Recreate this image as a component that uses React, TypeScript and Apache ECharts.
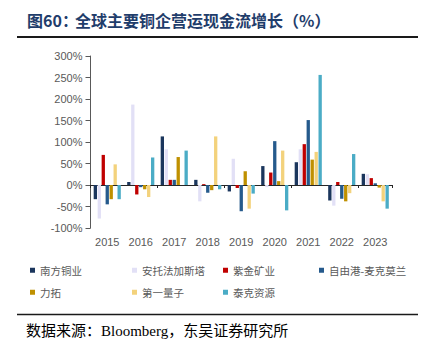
import React, { useEffect, useRef } from "react";
import * as echarts from "echarts";

const years = ["2015", "2016", "2017", "2018", "2019", "2020", "2021", "2022", "2023"];
const seriesNames = ["南方铜业", "安托法加斯塔", "紫金矿业", "自由港-麦克莫兰", "力拓", "第一量子", "泰克资源"];
const southernCopper = [-33, 7, 113, 12, -15, 44, 53, -36, 26];
const antofagasta = [-78, 187, 83, -38, 61, -5, 83, -48, 25];
const zijin = [70, -22, 12, 2, -7, 29, 95, 7, 16];
const freeport = [-45, -5, 12, -18, -61, 102, 151, -32, 4];
const rioTinto = [-33, -10, 65, -12, 32, 9, 59, -38, -6];
const firstQuantum = [48, -28, 0, 113, -55, 80, 77, -19, -38];
const teck = [-33, 64, 80, -10, -20, -59, 256, 72, -55];
const yMin = -100;
const yMax = 300;
const yStep = 50;

const seriesData = [southernCopper, antofagasta, zijin, freeport, rioTinto, firstQuantum, teck];
const colors = ["#1B365D", "#E2E0F6", "#C00000", "#255A8C", "#BF9000", "#F3D27C", "#4BACC6"];
const legendPos = [
  [30, 265], [132, 265], [223, 265], [319, 265],
  [30, 287], [132, 287], [223, 287],
];

export default function App() {
  const ref = useRef<HTMLDivElement>(null);
  useEffect(() => {
    if (!ref.current) return;
    const chart = echarts.init(ref.current, undefined, { renderer: "svg" });
    const axisFont = { fontFamily: "Liberation Sans, Arial, sans-serif", fontSize: 11, color: "#595959" };
    chart.setOption({
      animation: false,
      backgroundColor: "#ffffff",
      grid: { left: 90.5, right: 44, top: 56, bottom: 126, containLabel: false },
      xAxis: [
        {
          type: "category",
          data: years,
          position: "bottom",
          axisLine: { onZero: true, lineStyle: { color: "#262626", width: 1 } },
          axisTick: { show: true, length: 3, lineStyle: { color: "#262626" } },
          axisLabel: { show: false },
        },
        {
          type: "category",
          data: years,
          position: "bottom",
          axisLine: { show: false, onZero: false },
          axisTick: { show: false },
          axisLabel: { show: true, margin: 8, ...axisFont },
        },
      ],
      yAxis: {
        type: "value",
        min: yMin,
        max: yMax,
        interval: yStep,
        axisLine: { show: true, lineStyle: { color: "#595959" } },
        axisTick: { show: true, length: 5, lineStyle: { color: "#595959" } },
        splitLine: { show: false },
        axisLabel: { margin: 8, formatter: (v: number) => `${v}%`, ...axisFont },
      },
      legend: seriesNames.map((name, i) => ({
        data: [name],
        left: legendPos[i][0],
        top: legendPos[i][1],
        padding: 0,
        itemWidth: 5,
        itemHeight: 5,
        icon: "rect",
        selectedMode: false,
        textStyle: { fontFamily: "Noto Sans CJK SC", fontSize: 10.5, color: "#595959" },
      })),
      series: seriesNames.map((name, i) => ({
        name,
        type: "bar",
        xAxisIndex: 0,
        data: seriesData[i],
        barGap: "20%",
        barCategoryGap: "19%",
        itemStyle: { color: colors[i] },
      })),
      graphic: [
        {
          type: "text",
          left: 27,
          top: 12,
          style: {
            text: "图60：",
            font: "bold 16px 'Noto Sans CJK SC'",
            fill: "#1F3D6B",
          },
        },
        {
          type: "text",
          left: 75,
          top: 12,
          style: {
            text: "全球主要铜企营运现金流增长（%）",
            font: "bold 16px 'Noto Sans CJK SC'",
            fill: "#1F3D6B",
          },
        },
        {
          type: "line",
          shape: { x1: 17, y1: 37, x2: 418, y2: 37 },
          style: { stroke: "#1a1a1a", lineWidth: 2 },
        },
        {
          type: "line",
          shape: { x1: 17, y1: 314.5, x2: 418, y2: 314.5 },
          style: { stroke: "#1a1a1a", lineWidth: 1.5 },
        },
        {
          type: "text",
          left: 26,
          top: 323,
          style: {
            text: "数据来源：Bloomberg，东吴证券研究所",
            font: "15px 'Liberation Serif', 'Noto Sans CJK SC'",
            fill: "#000000",
          },
        },
      ],
    });
    return () => chart.dispose();
  }, []);
  return (
    <div
      ref={ref}
      style={{ position: "fixed", left: 0, top: 0, width: 436, height: 354, background: "#fff" }}
    />
  );
}
